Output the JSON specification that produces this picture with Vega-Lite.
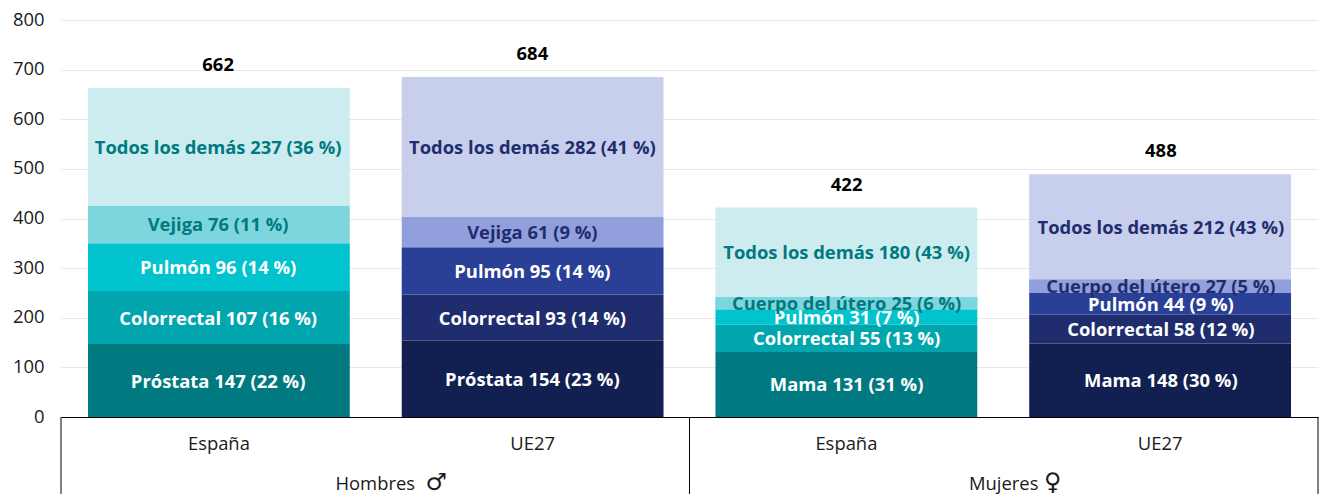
{
"$schema":"https://vega.github.io/schema/vega-lite/v6.json",
"autosize":{"type":"none"},
"padding":{"left":61,"top":20,"right":1,"bottom":77},
"width":1257,"height":397,
"background":"white",
"config":{"font":"Open Sans","view":{"stroke":null}},
"datasets":{
"segmentos":[
{"col":"Hombres España","orden":1,"clave":"España 1","valor":147,"etiqueta":"Próstata 147 (22 %)"},
{"col":"Hombres España","orden":2,"clave":"España 2","valor":107,"etiqueta":"Colorrectal 107 (16 %)"},
{"col":"Hombres España","orden":3,"clave":"España 3","valor":96,"etiqueta":"Pulmón 96 (14 %)"},
{"col":"Hombres España","orden":4,"clave":"España 4","valor":76,"etiqueta":"Vejiga 76 (11 %)"},
{"col":"Hombres España","orden":5,"clave":"España 5","valor":237,"etiqueta":"Todos los demás 237 (36 %)"},
{"col":"Hombres UE27","orden":1,"clave":"UE27 1","valor":154,"etiqueta":"Próstata 154 (23 %)"},
{"col":"Hombres UE27","orden":2,"clave":"UE27 2","valor":93,"etiqueta":"Colorrectal 93 (14 %)"},
{"col":"Hombres UE27","orden":3,"clave":"UE27 3","valor":95,"etiqueta":"Pulmón 95 (14 %)"},
{"col":"Hombres UE27","orden":4,"clave":"UE27 4","valor":61,"etiqueta":"Vejiga 61 (9 %)"},
{"col":"Hombres UE27","orden":5,"clave":"UE27 5","valor":282,"etiqueta":"Todos los demás 282 (41 %)"},
{"col":"Mujeres España","orden":1,"clave":"España 1","valor":131,"etiqueta":"Mama 131 (31 %)"},
{"col":"Mujeres España","orden":2,"clave":"España 2","valor":55,"etiqueta":"Colorrectal 55 (13 %)"},
{"col":"Mujeres España","orden":3,"clave":"España 3","valor":31,"etiqueta":"Pulmón 31 (7 %)"},
{"col":"Mujeres España","orden":4,"clave":"España 4","valor":25,"etiqueta":"Cuerpo del útero 25 (6 %)"},
{"col":"Mujeres España","orden":5,"clave":"España 5","valor":180,"etiqueta":"Todos los demás 180 (43 %)"},
{"col":"Mujeres UE27","orden":1,"clave":"UE27 1","valor":148,"etiqueta":"Mama 148 (30 %)"},
{"col":"Mujeres UE27","orden":2,"clave":"UE27 2","valor":58,"etiqueta":"Colorrectal 58 (12 %)"},
{"col":"Mujeres UE27","orden":3,"clave":"UE27 3","valor":44,"etiqueta":"Pulmón 44 (9 %)"},
{"col":"Mujeres UE27","orden":4,"clave":"UE27 4","valor":27,"etiqueta":"Cuerpo del útero 27 (5 %)"},
{"col":"Mujeres UE27","orden":5,"clave":"UE27 5","valor":212,"etiqueta":"Todos los demás 212 (43 %)"}
],
"totales":[
{"col":"Hombres España","total":662,"tope":663},
{"col":"Hombres UE27","total":684,"tope":685},
{"col":"Mujeres España","total":422,"tope":422},
{"col":"Mujeres UE27","total":488,"tope":489}
],
"sexos":[{"sexo":"Hombres","simbolo":"♂"},{"sexo":"Mujeres","simbolo":"♀"}],
"limites":[{"b":0},{"b":1},{"b":2}]
},
"data":{"name":"segmentos"},
"transform":[
{"stack":"valor","groupby":["col"],"sort":[{"field":"orden","order":"ascending"}],"as":["v0","v1"]},
{"calculate":"(datum.v0+datum.v1)/2","as":"medio"}
],
"resolve":{"scale":{"x":"independent","color":"independent"}},
"layer":[
{"mark":{"type":"bar"},
"encoding":{
"x":{"field":"col","type":"nominal","scale":{"domain":["Hombres España","Hombres UE27","Mujeres España","Mujeres UE27"],"paddingInner":0.1656,"paddingOuter":0.086},"axis":{"title":null,"labelExpr":"split(datum.label,' ')[1]","labelAngle":0,"ticks":false,"domainColor":"black","domainWidth":1,"labelPadding":26,"labelFontSize":18.4,"labelColor":"#1a1a1a","labelBaseline":"middle","grid":false}},
"y":{"field":"v0","type":"quantitative","scale":{"domain":[0,800]},"axis":{"title":null,"values":[0,100,200,300,400,500,600,700,800],"ticks":false,"domain":false,"labelFontSize":18.4,"labelColor":"#1a1a1a","labelPadding":17,"labelOffset":-1,"gridColor":"#e8e8e8","gridWidth":1}},
"y2":{"field":"v1"},
"color":{"field":"clave","type":"nominal","legend":null,"scale":{"domain":["España 1","España 2","España 3","España 4","España 5","UE27 1","UE27 2","UE27 3","UE27 4","UE27 5"],"range":["#007a80","#00a5ad","#00c3cd","#7dd6dd","#cceceF","#112050","#1f2d6e","#2a4096","#919fdc","#c8cfec"]}}
}},
{"transform":[{"filter":"datum.orden!=4 || datum.col=='Hombres España' || datum.col=='Hombres UE27'"}],
"mark":{"type":"text","fontWeight":"bold","fontSize":18.4,"baseline":"middle","dy":1},
"encoding":{
"x":{"field":"col","type":"nominal","scale":{"domain":["Hombres España","Hombres UE27","Mujeres España","Mujeres UE27"],"paddingInner":0.1656,"paddingOuter":0.086},"axis":null},
"y":{"field":"medio","type":"quantitative","scale":{"domain":[0,800]}},
"text":{"field":"etiqueta"},
"color":{"field":"clave","type":"nominal","legend":null,"scale":{"domain":["España 1","España 2","España 3","España 4","España 5","UE27 1","UE27 2","UE27 3","UE27 4","UE27 5"],"range":["#ffffff","#ffffff","#ffffff","#007a80","#007a80","#ffffff","#ffffff","#ffffff","#1f2d6e","#1f2d6e"]}}
}},
{"transform":[{"filter":"datum.orden==4 && (datum.col=='Mujeres España' || datum.col=='Mujeres UE27')"}],
"mark":{"type":"bar"},
"encoding":{
"x":{"field":"col","type":"nominal","scale":{"domain":["Hombres España","Hombres UE27","Mujeres España","Mujeres UE27"],"paddingInner":0.1656,"paddingOuter":0.086},"axis":null},
"y":{"field":"v0","type":"quantitative","scale":{"domain":[0,800]}},
"y2":{"field":"v1"},
"color":{"field":"clave","type":"nominal","legend":null,"scale":{"domain":["España 4","UE27 4"],"range":["#7dd6dd","#919fdc"]}}
}},
{"transform":[{"filter":"datum.orden==4 && (datum.col=='Mujeres España' || datum.col=='Mujeres UE27')"}],
"mark":{"type":"text","fontWeight":"bold","fontSize":18.4,"baseline":"middle","dy":1},
"encoding":{
"x":{"field":"col","type":"nominal","scale":{"domain":["Hombres España","Hombres UE27","Mujeres España","Mujeres UE27"],"paddingInner":0.1656,"paddingOuter":0.086},"axis":null},
"y":{"field":"medio","type":"quantitative","scale":{"domain":[0,800]}},
"text":{"field":"etiqueta"},
"color":{"field":"clave","type":"nominal","legend":null,"scale":{"domain":["España 4","UE27 4"],"range":["#007a80","#1f2d6e"]}}
}},
{"data":{"name":"totales"},
"mark":{"type":"text","fontWeight":"bold","fontSize":18.4,"color":"black","baseline":"middle","dy":-23},
"encoding":{
"x":{"field":"col","type":"nominal","scale":{"domain":["Hombres España","Hombres UE27","Mujeres España","Mujeres UE27"],"paddingInner":0.1656,"paddingOuter":0.086},"axis":null},
"y":{"field":"tope","type":"quantitative","scale":{"domain":[0,800]}},
"text":{"field":"total"}
}},
{"data":{"name":"limites"},
"mark":{"type":"rule","color":"black","strokeWidth":1},
"encoding":{
"x":{"field":"b","type":"quantitative","scale":{"domain":[0,2]},"axis":null},
"y":{"datum":0,"type":"quantitative"},
"y2":{"datum":-155}
}},
{"data":{"name":"sexos"},
"mark":{"type":"text","fontSize":18.4,"color":"#1a1a1a","baseline":"middle"},
"encoding":{
"x":{"field":"sexo","type":"nominal","axis":null,"scale":{"domain":["Hombres","Mujeres"],"paddingInner":0,"paddingOuter":0}},
"y":{"datum":-135,"type":"quantitative"},
"text":{"field":"sexo"}
}},
{"data":{"name":"sexos"},
"transform":[{"filter":"datum.sexo=='Hombres'"}],
"mark":{"type":"text","font":"DejaVu Sans","fontSize":24,"color":"#1a1a1a","baseline":"middle","dx":61,"dy":-1},
"encoding":{
"x":{"field":"sexo","type":"nominal","axis":null,"scale":{"domain":["Hombres","Mujeres"],"paddingInner":0,"paddingOuter":0}},
"y":{"datum":-135,"type":"quantitative"},
"text":{"field":"simbolo"}
}},
{"data":{"name":"sexos"},
"transform":[{"filter":"datum.sexo=='Mujeres'"}],
"mark":{"type":"text","font":"DejaVu Sans","fontSize":24,"color":"#1a1a1a","baseline":"middle","dx":49,"dy":-1},
"encoding":{
"x":{"field":"sexo","type":"nominal","axis":null,"scale":{"domain":["Hombres","Mujeres"],"paddingInner":0,"paddingOuter":0}},
"y":{"datum":-135,"type":"quantitative"},
"text":{"field":"simbolo"}
}}
]
}
